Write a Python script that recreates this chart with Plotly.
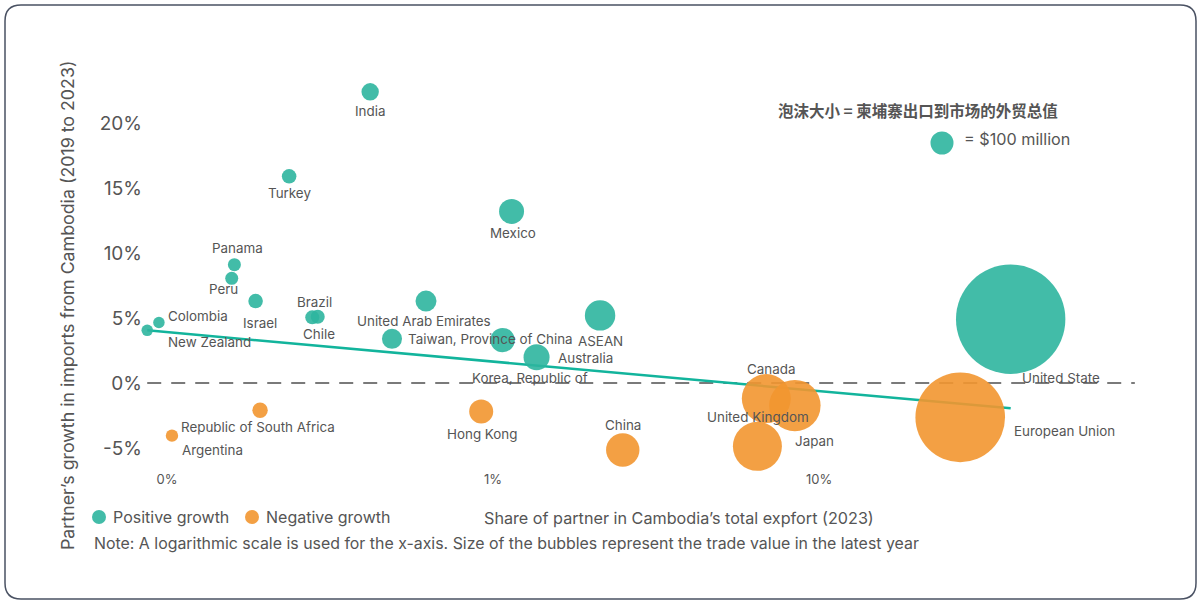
import numpy as np
import plotly.graph_objects as go

# data
countries = ["India", "Turkey", "Mexico", "Panama", "Peru", "Israel", "Brazil", "Chile",
             "Colombia", "New Zealand", "United Arab Emirates", "Taiwan, Province of China",
             "Korea, Republic of", "Australia", "ASEAN", "United State",
             "European Union", "Canada", "Japan", "United Kingdom", "China", "Hong Kong",
             "Republic of South Africa", "Argentina"]
share = [0.42, 0.237, 1.14, 0.161, 0.158, 0.187, 0.29, 0.279,
         0.0945, 0.087, 0.623, 0.49,
         1.07, 1.36, 2.13, 38.7,
         27.1, 6.89, 8.43, 6.47, 2.50, 0.92,
         0.193, 0.1036]
growth = [22.4, 15.9, 13.2, 9.1, 8.05, 6.3, 5.1, 5.05,
          4.65, 4.05, 6.3, 3.4,
          3.3, 1.98, 5.2, 4.9,
          -2.64, -1.2, -1.74, -4.87, -5.15, -2.2,
          -2.1, -4.05]
trade_value = [57, 40, 118, 32, 32, 40, 37, 37,
               25, 25, 83, 76,
               113, 128, 175, 2262,
               1518, 454, 500, 454, 211, 109,
               45, 29]
trend_y = [4.05, -1.95]
ref_value = 100
y_ticks = [-5, 0, 5, 10, 15, 20]
x_ticks = [0.1, 1, 10]
x_ticktext = ["0%", "1%", "10%"]

# label placement (anchor, dx, dy in px from bubble centre)
label_pos = {
    "India": ("center", 0, 19), "Turkey": ("center", 0, 17), "Mexico": ("center", 1, 22),
    "Panama": ("center", 3, -17), "Peru": ("center", -8, 11), "Israel": ("center", 4, 22),
    "Brazil": ("center", -3, -15), "Chile": ("center", 7, 17),
    "Colombia": ("left", 7, -7), "New Zealand": ("left", 19, 12),
    "United Arab Emirates": ("center", -2, 20), "Taiwan, Province of China": ("left", 14, 0),
    "Korea, Republic of": ("center", 27, 38), "Australia": ("left", 19, 1),
    "ASEAN": ("center", 0, 26), "United State": ("left", 9, 59),
    "European Union": ("left", 52, 14), "Canada": ("center", 5, -30),
    "Japan": ("left", -2, 35), "United Kingdom": ("center", 1, -29),
    "China": ("center", 0, -25), "Hong Kong": ("center", 1, 22),
    "Republic of South Africa": ("center", -2, 17), "Argentina": ("left", 8, 14),
}

TEAL = "rgba(45,181,158,0.9)"
ORANGE = "rgba(242,150,48,0.9)"
TXT = "#555555"
FONT = "Inter"
sizeref = ref_value / (2 * 11.5 ** 2)

share = np.array(share)
growth = np.array(growth)
trade_value = np.array(trade_value)
pos = growth >= 0

fig = go.Figure()

# zero reference line
fig.add_trace(go.Scatter(x=[share.min(), 93], y=[0, 0], mode="lines",
                         line=dict(color="#7a7a7a", width=2, dash="14px,10px"),
                         showlegend=False, hoverinfo="skip"))
# trend line
fig.add_trace(go.Scatter(x=[share.min(), share.max()], y=trend_y, mode="lines",
                         line=dict(color="#12b49c", width=2.5),
                         showlegend=False, hoverinfo="skip"))

for mask, name, col in [(pos, "Positive growth", TEAL), (~pos, "Negative growth", ORANGE)]:
    fig.add_trace(go.Scatter(
        x=share[mask], y=growth[mask], mode="markers", name=name,
        text=np.array(countries)[mask], showlegend=False,
        marker=dict(size=trade_value[mask], sizemode="area", sizeref=sizeref,
                    color=col, opacity=1, line=dict(width=0)),
        cliponaxis=False,
    ))

annotations = []
for c, x, y in zip(countries, share, growth):
    anc, dx, dy = label_pos[c]
    annotations.append(dict(x=np.log10(x), y=y, xref="x", yref="y", text=c, showarrow=False,
                            xanchor=anc, yanchor="middle", xshift=dx, yshift=-dy,
                            font=dict(family=FONT, size=13.4, color=TXT)))

# plot area: x 135..1150 px, y 60..470 px
def px(x):
    return (x - 135) / 1015


def py(y):
    return (470 - y) / 410


annotations += [
    dict(text="Partner’s growth in imports from Cambodia (2019 to 2023)", textangle=-90,
         x=px(67), y=py(306), xref="paper", yref="paper", xanchor="center", yanchor="middle",
         showarrow=False, font=dict(family=FONT, size=17.8, color=TXT)),
    dict(text="Share of partner in Cambodia’s total expfort (2023)",
         x=px(679), y=py(518), xref="paper", yref="paper", xanchor="center", yanchor="middle",
         showarrow=False, font=dict(family=FONT, size=16.2, color=TXT)),
    dict(text="Note: A logarithmic scale is used for the x-axis. Size of the bubbles represent the trade value in the latest year",
         x=px(92), y=py(543), xref="paper", yref="paper", xanchor="left", yanchor="middle",
         showarrow=False, font=dict(family=FONT, size=15.9, color=TXT)),
    dict(text="泡沫大小 = 柬埔寨出口到市场的外贸总值",
         x=px(918), y=py(110), xref="paper", yref="paper", xanchor="center", yanchor="middle",
         showarrow=False, font=dict(family="Noto Sans CJK SC", size=15.5, color=TXT, weight="bold")),
    dict(text="= $100 million",
         x=px(962), y=py(139), xref="paper", yref="paper", xanchor="left", yanchor="middle",
         showarrow=False, font=dict(family=FONT, size=16.2, color=TXT)),
]

# size key bubble
r_ref = np.sqrt(ref_value / (2 * sizeref))
shapes = [dict(type="circle", xref="paper", yref="paper", xsizemode="pixel", ysizemode="pixel",
               xanchor=px(942), yanchor=py(143), x0=-r_ref, x1=r_ref, y0=-r_ref, y1=r_ref,
               fillcolor=TEAL, line=dict(width=0))]

# colour key
for name, col, cx in [("Positive growth", TEAL, 99), ("Negative growth", ORANGE, 252)]:
    shapes.append(dict(type="circle", xref="paper", yref="paper", xsizemode="pixel",
                       ysizemode="pixel", xanchor=px(cx), yanchor=py(517),
                       x0=-7, x1=7, y0=-7, y1=7, fillcolor=col, line=dict(width=0)))
    annotations.append(dict(text=name, x=px(cx + 12), y=py(517), xref="paper", yref="paper",
                            xanchor="left", yanchor="middle", showarrow=False,
                            font=dict(family=FONT, size=16, color=TXT)))

# rounded frame around the whole figure
L, R, T, B, rad = 5, 1196, 5, 599, 16
path = (f"M {px(L + rad)},{py(T)} L {px(R - rad)},{py(T)} "
        f"Q {px(R)},{py(T)} {px(R)},{py(T + rad)} L {px(R)},{py(B - rad)} "
        f"Q {px(R)},{py(B)} {px(R - rad)},{py(B)} L {px(L + rad)},{py(B)} "
        f"Q {px(L)},{py(B)} {px(L)},{py(B - rad)} L {px(L)},{py(T + rad)} "
        f"Q {px(L)},{py(T)} {px(L + rad)},{py(T)} Z")
shapes.append(dict(type="path", path=path, xref="paper", yref="paper",
                   line=dict(color="#4a5263", width=1.5)))

fig.update_layout(
    width=1198, height=603,
    margin=dict(l=135, r=48, t=60, b=133),
    plot_bgcolor="white", paper_bgcolor="white",
    font=dict(family=FONT, color=TXT),
    xaxis=dict(type="log", range=[-1.098, 2.015], tickvals=x_ticks,
               ticktext=x_ticktext, showgrid=False, zeroline=False,
               showline=False, tickfont=dict(size=13, color=TXT)),
    yaxis=dict(range=[-6.692, 24.846], tickvals=y_ticks,
               ticktext=[f"{v}%" for v in y_ticks],
               showgrid=False, zeroline=False, showline=False, ticklabelstandoff=-8,
               tickfont=dict(size=19, color=TXT)),
    annotations=annotations,
    shapes=shapes,
    showlegend=False,
)

fig.write_html("out.html", config={"displayModeBar": False},
               post_script="document.body.style.margin='0px';")
